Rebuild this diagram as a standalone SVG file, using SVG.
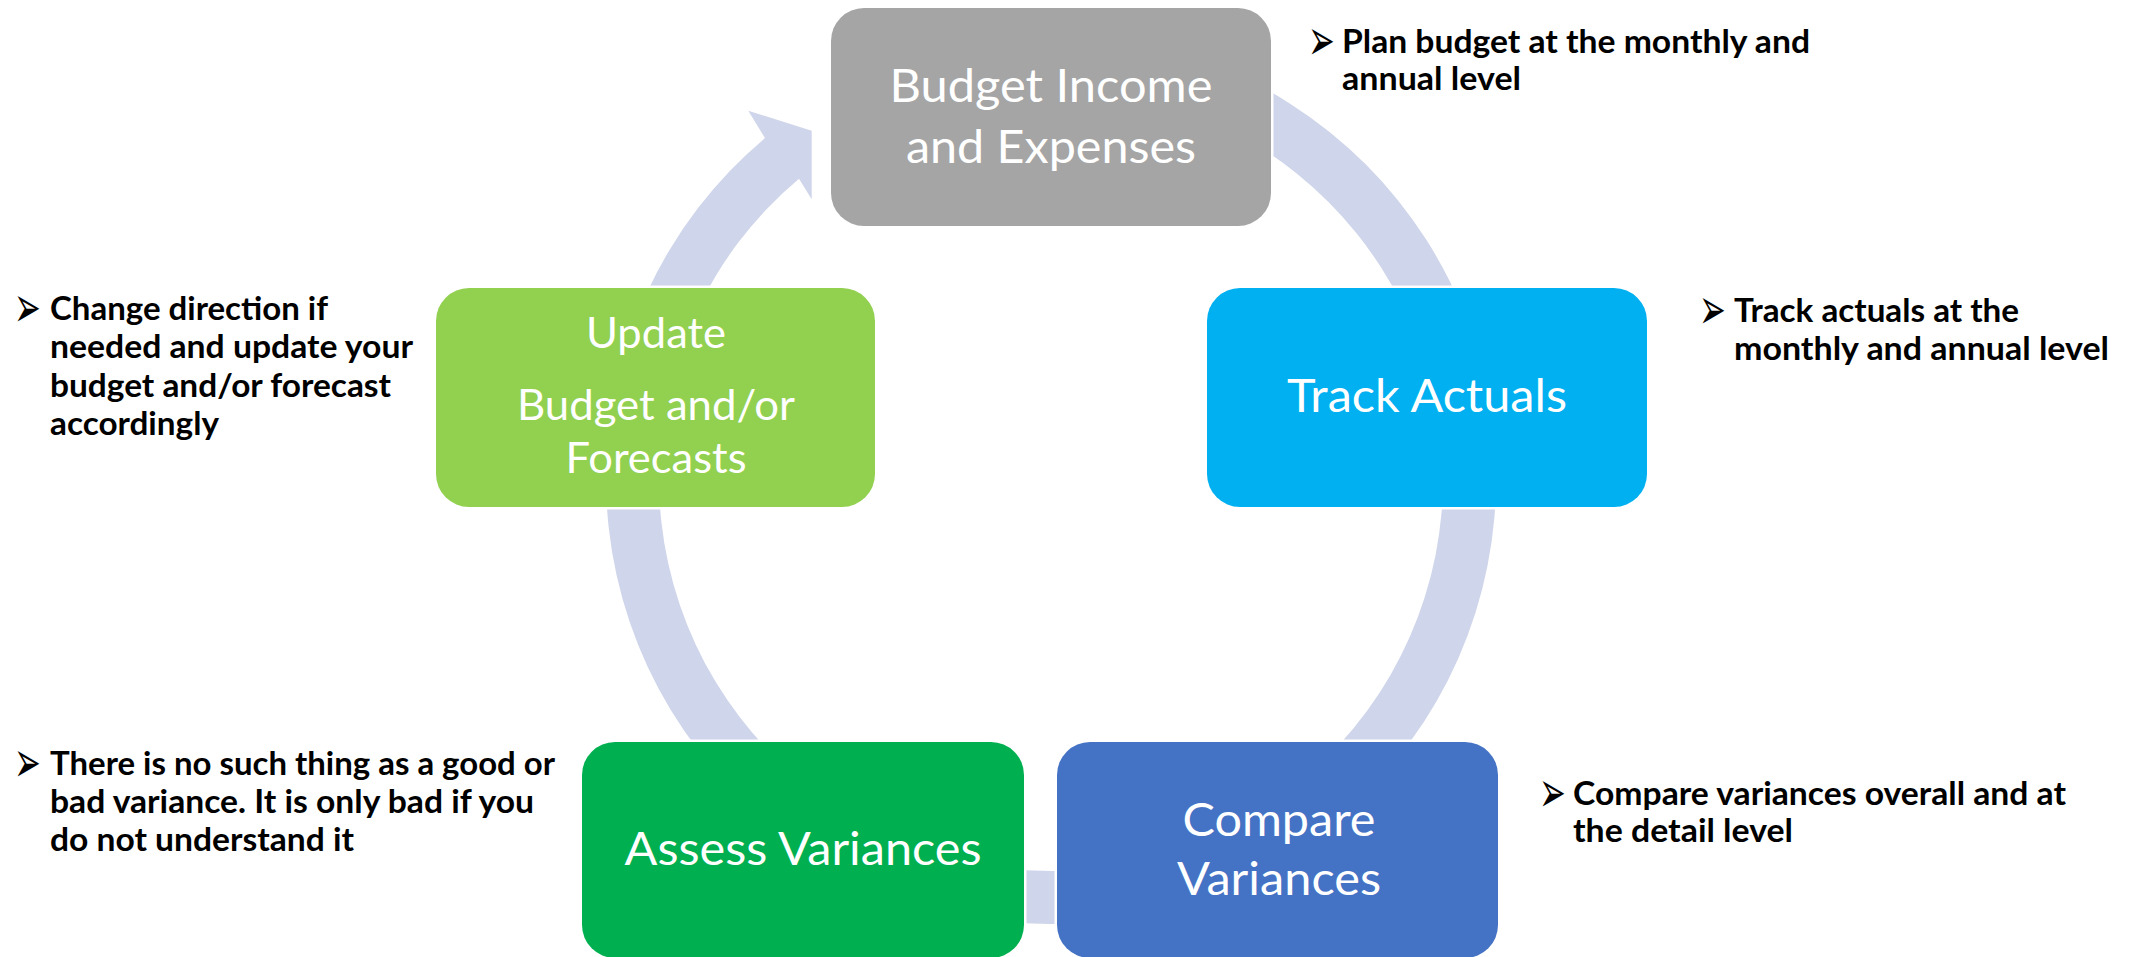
<svg xmlns="http://www.w3.org/2000/svg" width="2136" height="957" viewBox="0 0 2136 957">
  <style>
    .box { stroke: #ffffff; stroke-width: 5; paint-order: stroke; }
    .label { font-family: Lato, "Liberation Sans", sans-serif; font-size: 46.5px; fill: #ffffff; text-anchor: middle; }
    .label-sm { font-size: 42px; }
    .note { font-family: Lato, "Liberation Sans", sans-serif; font-weight: bold; font-size: 32px; fill: #000000; }
    .bullet { font-family: "DejaVu Sans", sans-serif; font-size: 40px; fill: #000000; }
    .ring { fill: #CFD5EA; }
  </style>
  <rect width="2136" height="957" fill="#ffffff"/>

  <!-- cycle band: one arc around the centre with an arrowhead ending at the top-left -->
  <g id="connectors">
    <path class="ring" d="M 1203.2 60.8 A 445 445 0 1 1 765.0 138.1 L 748.3 110.7 L 811.7 130.7 L 811.7 199.3 L 799.0 178.7 A 392 392 0 1 0 1185.1 110.6 Z"/>
  </g>

  <g id="node-budget">
    <rect class="box" x="831" y="8" width="440" height="218" rx="33" ry="33" fill="#A5A5A5"/>
    <text class="label" x="1051" y="102" textLength="323" lengthAdjust="spacingAndGlyphs">Budget Income</text>
    <text class="label" x="1051" y="163" textLength="290" lengthAdjust="spacingAndGlyphs">and Expenses</text>
  </g>

  <g id="node-track">
    <rect class="box" x="1207" y="288" width="440" height="219" rx="33" ry="33" fill="#00B0F0"/>
    <text class="label" x="1427" y="412" textLength="280" lengthAdjust="spacingAndGlyphs">Track Actuals</text>
  </g>

  <g id="node-compare">
    <rect class="box" x="1057" y="742" width="441" height="216" rx="33" ry="33" fill="#4472C4"/>
    <text class="label" x="1279" y="836" textLength="193" lengthAdjust="spacingAndGlyphs">Compare</text>
    <text class="label" x="1279" y="895" textLength="204" lengthAdjust="spacingAndGlyphs">Variances</text>
  </g>

  <g id="node-assess">
    <rect class="box" x="582" y="742" width="442" height="216" rx="33" ry="33" fill="#00B050"/>
    <text class="label" x="803" y="865" textLength="357" lengthAdjust="spacingAndGlyphs">Assess Variances</text>
  </g>

  <g id="node-update">
    <rect class="box" x="436" y="288" width="439" height="219" rx="33" ry="33" fill="#92D050"/>
    <text class="label label-sm" x="656" y="348" textLength="140" lengthAdjust="spacingAndGlyphs">Update</text>
    <text class="label label-sm" x="656" y="420" textLength="278" lengthAdjust="spacingAndGlyphs">Budget and/or</text>
    <text class="label label-sm" x="656" y="473" textLength="181" lengthAdjust="spacingAndGlyphs">Forecasts</text>
  </g>

  <!-- side notes; bullets are narrowed and stretched to the arrowhead proportions -->
  <g id="note-budget">
    <text class="bullet" transform="translate(1308 60) scale(0.8 1.45)">➢</text>
    <text class="note" x="1342" y="53" textLength="468" lengthAdjust="spacingAndGlyphs">Plan budget at the monthly and</text>
    <text class="note" x="1342" y="90" textLength="179" lengthAdjust="spacingAndGlyphs">annual level</text>
  </g>

  <g id="note-track">
    <text class="bullet" transform="translate(1699 329) scale(0.8 1.45)">➢</text>
    <text class="note" x="1734" y="322" textLength="285" lengthAdjust="spacingAndGlyphs">Track actuals at the</text>
    <text class="note" x="1734" y="360" textLength="375" lengthAdjust="spacingAndGlyphs">monthly and annual level</text>
  </g>

  <g id="note-update">
    <text class="bullet" transform="translate(14 327) scale(0.8 1.45)">➢</text>
    <text class="note" x="50" y="320" textLength="278" lengthAdjust="spacingAndGlyphs">Change direction if</text>
    <text class="note" x="50" y="358" textLength="363" lengthAdjust="spacingAndGlyphs">needed and update your</text>
    <text class="note" x="50" y="397" textLength="341" lengthAdjust="spacingAndGlyphs">budget and/or forecast</text>
    <text class="note" x="50" y="435" textLength="169" lengthAdjust="spacingAndGlyphs">accordingly</text>
  </g>

  <g id="note-assess">
    <text class="bullet" transform="translate(14 782) scale(0.8 1.45)">➢</text>
    <text class="note" x="50" y="775" textLength="505" lengthAdjust="spacingAndGlyphs">There is no such thing as a good or</text>
    <text class="note" x="50" y="813" textLength="484" lengthAdjust="spacingAndGlyphs">bad variance. It is only bad if you</text>
    <text class="note" x="50" y="851" textLength="304" lengthAdjust="spacingAndGlyphs">do not understand it</text>
  </g>

  <g id="note-compare">
    <text class="bullet" transform="translate(1539 812) scale(0.8 1.45)">➢</text>
    <text class="note" x="1573" y="805" textLength="493" lengthAdjust="spacingAndGlyphs">Compare variances overall and at</text>
    <text class="note" x="1573" y="842" textLength="220" lengthAdjust="spacingAndGlyphs">the detail level</text>
  </g>
</svg>
